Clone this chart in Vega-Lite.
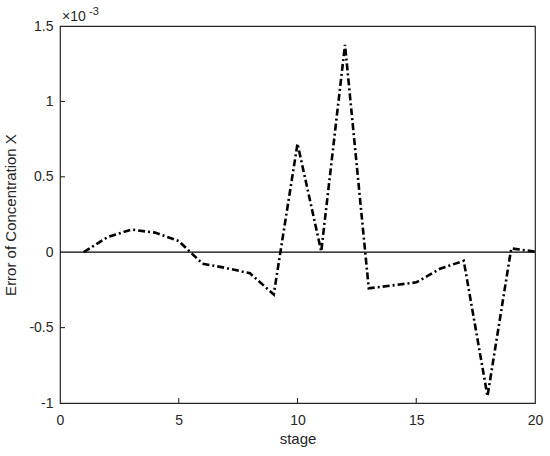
{
  "$schema": "https://vega.github.io/schema/vega-lite/v6.json",
  "width": 475,
  "height": 377,
  "autosize": {"type": "none"},
  "padding": {"left": 60, "top": 26, "right": 15, "bottom": 53},
  "background": "white",
  "config": {
    "view": {"stroke": "#262626", "strokeWidth": 1.2},
    "font": "Liberation Sans",
    "axis": {
      "domain": false,
      "grid": false,
      "ticks": false,
      "labelFont": "Liberation Sans",
      "labelFontSize": 14,
      "labelColor": "#262626",
      "titleFont": "Liberation Sans",
      "titleFontSize": 15,
      "titleFontWeight": "normal",
      "titleColor": "#262626"
    }
  },
  "datasets": {
    "err": [
      {"stage": 1, "err": 0.0},
      {"stage": 2, "err": 0.10},
      {"stage": 3, "err": 0.15},
      {"stage": 4, "err": 0.13},
      {"stage": 5, "err": 0.074},
      {"stage": 6, "err": -0.076},
      {"stage": 7, "err": -0.105},
      {"stage": 8, "err": -0.14},
      {"stage": 9, "err": -0.28},
      {"stage": 10, "err": 0.72},
      {"stage": 11, "err": 0.005},
      {"stage": 12, "err": 1.375},
      {"stage": 13, "err": -0.24},
      {"stage": 14, "err": -0.22},
      {"stage": 15, "err": -0.20},
      {"stage": 16, "err": -0.11},
      {"stage": 17, "err": -0.057},
      {"stage": 18, "err": -0.955},
      {"stage": 19, "err": 0.025},
      {"stage": 20, "err": 0.004}
    ],
    "xticks": [{"stage": 5, "base": -1, "top": -0.967}, {"stage": 10, "base": -1, "top": -0.967}, {"stage": 15, "base": -1, "top": -0.967}],
    "yticks": [{"err": -0.5, "base": 0, "end": 0.21}, {"err": 0.5, "base": 0, "end": 0.21}, {"err": 1, "base": 0, "end": 0.21}],
    "one": [{"note": "exponent"}]
  },
  "layer": [
    {
      "data": {"name": "one"},
      "mark": {"type": "rule", "color": "black", "strokeWidth": 1.3},
      "encoding": {"y": {"datum": 0, "type": "quantitative"}}
    },
    {
      "data": {"name": "xticks"},
      "mark": {"type": "rule", "color": "#262626", "strokeWidth": 1.1},
      "encoding": {
        "x": {"field": "stage", "type": "quantitative"},
        "y": {"field": "base", "type": "quantitative"},
        "y2": {"field": "top"}
      }
    },
    {
      "data": {"name": "yticks"},
      "mark": {"type": "rule", "color": "#262626", "strokeWidth": 1.1},
      "encoding": {
        "y": {"field": "err", "type": "quantitative"},
        "x": {"field": "base", "type": "quantitative"},
        "x2": {"field": "end"}
      }
    },
    {
      "data": {"name": "err"},
      "mark": {"type": "line", "color": "black", "strokeWidth": 2.6, "strokeDash": [7, 3, 2, 3]},
      "encoding": {
        "x": {
          "field": "stage", "type": "quantitative",
          "scale": {"domain": [0, 20], "nice": false, "zero": false},
          "axis": {"values": [0, 5, 10, 15, 20], "title": "stage", "labelPadding": 10, "titlePadding": 4, "labelFlush": false}
        },
        "y": {
          "field": "err", "type": "quantitative",
          "scale": {"domain": [-1, 1.5], "nice": false},
          "axis": {
            "values": [-1, -0.5, 0, 0.5, 1, 1.5],
            "title": "Error of Concentration X",
            "labelPadding": 7,
            "titlePadding": 10,
            "labelFlush": false,
            "labelExpr": "datum.value < 0 ? '-' + abs(datum.value) : '' + datum.value"
          }
        }
      }
    },
    {
      "data": {"name": "one"},
      "mark": {"type": "text", "align": "left", "baseline": "bottom", "dx": 2, "dy": -2, "fontSize": 14, "color": "#262626"},
      "encoding": {
        "x": {"datum": 0, "type": "quantitative"},
        "y": {"datum": 1.5, "type": "quantitative"},
        "text": {"value": "×10"}
      }
    },
    {
      "data": {"name": "one"},
      "mark": {"type": "text", "align": "left", "baseline": "bottom", "dx": 29, "dy": -9, "fontSize": 11, "color": "#262626"},
      "encoding": {
        "x": {"datum": 0, "type": "quantitative"},
        "y": {"datum": 1.5, "type": "quantitative"},
        "text": {"value": "-3"}
      }
    }
  ]
}
